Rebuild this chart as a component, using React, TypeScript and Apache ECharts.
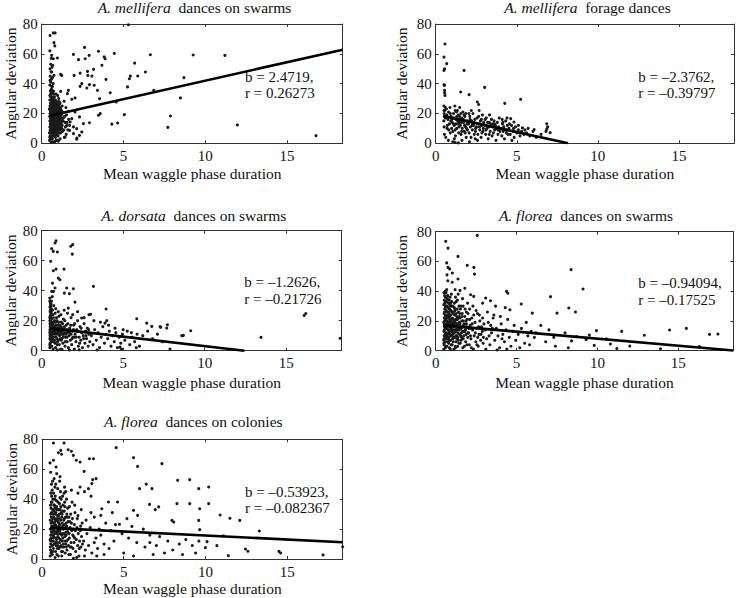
import React, { useEffect, useRef } from "react";
import * as echarts from "echarts";

// ---------- DATA ----------
const titleSpecies = ["A. mellifera", "A. mellifera", "A. dorsata", "A. florea", "A. florea"];
const titleRest = ["dances on swarms", "forage dances", "dances on swarms", "dances on swarms", "dances on colonies"];
const slopes = [2.4719, -2.3762, -1.2626, -0.94094, -0.53923];
const rValues = [0.26273, -0.39797, -0.21726, -0.17525, -0.082367];
const intercepts = [17.3, 19.4, 15.7, 17.5, 21.1];
const lineStartX = [0.5, 0.5, 0.5, 0.5, 0.5];
const xTicks = [0, 5, 10, 15];
const yTicks = [0, 20, 40, 60, 80];
const xMax = 18.4;

const mellSwarm: [number, number][] = [
  [5.3,79.5],[2.62,64.3],[1.94,59.6],[2.25,56.1],[2.66,56.7],[2.9,59],[3.47,61.7],[3.82,57.9],[3.88,56.7],[4.44,60.3],
  [6.64,59.4],[5.68,53.8],[3.68,52.3],[6.34,47.8],[5.87,45.1],[5.42,45.1],[5.36,43.3],[5.25,37.8],[1.98,45.5],[2.35,47.1],
  [2.8,48.2],[3.17,49.6],[2.82,45.5],[3.07,45.1],[3.93,42.9],[2.45,40],[2.35,38.2],[2.92,39.3],[3.21,38.9],[2.76,37.1],
  [3.41,35.5],[4.19,33.9],[6.85,35.5],[8.69,44],[8.48,30.4],[3.54,29.9],[4.56,27.7],[3.47,18.8],[3.58,19.9],[5.05,19.2],
  [7.87,18.3],[7.71,10.7],[4.64,13.6],[4.29,12.9],[9.26,59.2],[11.2,58.9],[11.96,12.3],[16.77,5.1],[0.96,57.2],[1.16,46.2],
  [1.22,45.5],[1.16,34.8],[1.63,35.5],[1.57,33.3],[1.84,29.5],[2.04,30.4],[1.37,28.2],[1.94,11],[2.14,9.8],[2.45,7.6],
  [2.31,5.3],[2.14,2.7],[1.74,14.3],[1.84,16.5],[1.53,12],[1.7,8.7],[1.94,6.5],[1.43,4.2],[2.55,13.2],[2.92,13.8],
  [2.31,17.7],[2.04,21],[1.63,21.4],[2.15,3.5],
  [0.51,72.3],[0.71,74],[0.82,74],[0.75,67.5],[0.8,65.3],[0.61,59],[0.71,56.7],[0.67,52.3],[0.51,50],[0.61,47.8],
  [0.75,45.5],[0.51,42.2],[0.55,53],[0.63,51],[0.5,62],[0.57,48],[0.66,44],[0.52,45],[0.6,43],[0.55,41],
  [0.7,40],[0.5,39],[0.62,38],[0.58,36],[0.53,35],[0.67,34],[0.74,33],[0.5,32],[0.6,31],[0.58,57],
  [0.48,2],[0.52,5],[0.55,8],[0.5,11],[0.58,14],[0.53,17],[0.6,20],[0.47,23],[0.56,26],[0.62,29],
  [0.65,3],[0.7,6],[0.66,9],[0.72,12],[0.68,15],[0.74,18],[0.63,21],[0.77,24],[0.7,27],[0.66,31],
  [0.8,1],[0.84,4],[0.79,7],[0.86,10],[0.82,13],[0.88,16],[0.8,19],[0.9,22],[0.85,25],[0.92,28],
  [0.96,2],[1.0,5],[0.94,8],[1.02,11],[0.98,14],[1.05,17],[0.95,20],[1.08,23],[1.0,26],[1.04,30],
  [1.12,3],[1.15,7],[1.1,10],[1.18,13],[1.14,16],[1.2,19],[1.1,22],[1.25,25],[1.16,12],[1.3,15],
  [1.35,9],[1.4,18],[1.28,21],[1.45,11],[1.5,6],[1.38,4],[1.55,14],[1.6,9],[1.48,24],[1.7,12],
  [0.5,15],[0.54,19],[0.58,22],[0.51,25],[0.6,12],[0.64,17],[0.57,10],[0.62,24],[0.69,19],[0.73,22],
  [0.67,13],[0.71,16],[0.76,14],[0.78,20],[0.83,17],[0.87,21],[0.81,11],[0.89,13],[0.93,18],[0.97,16],
  [0.91,24],[0.99,12],[1.03,15],[1.07,20],[1.01,9],[1.09,14],[1.13,18],[1.17,21],[1.21,10],[1.23,16],
  [0.55,33],[0.6,36],[0.65,38],[0.72,35],[0.78,31],[0.84,29],[0.88,33],[0.98,32],[1.06,28],[1.12,27],
  [0.53,13],[0.59,16],[0.63,7],[0.67,20],[0.75,9],[0.79,26],[0.86,19],[0.93,6],[1.0,21],[1.05,13],
  [0.49,18],[0.54,21],[0.56,3],[0.61,27],[0.69,24],[0.73,5],[0.77,17],[0.82,23],[0.9,15],[0.95,11],
  [0.58,0.5],[0.66,1],[0.74,0.8],[0.88,2],[1.02,1.5],[0.52,9],[0.57,29],[0.64,25],[0.7,14],[0.76,11],
  [0.47,7],[0.51,20],[0.54,27],[0.59,4],[0.61,18],[0.65,22],[0.68,10],[0.71,25],[0.73,28],[0.77,8],
  [0.79,15],[0.83,19],[0.85,6],[0.87,27],[0.9,11],[0.92,17],[0.94,23],[0.97,9],[1.0,14],[1.03,19],
  [1.07,7],[1.1,16],[1.13,24],[1.17,11],[1.2,14],[1.24,20],[1.27,8],[0.5,29],[0.56,31],[0.63,34],
  [0.69,30],[0.75,29],[0.81,27],[0.86,23],[0.6,8],[0.64,14],[0.72,18],[0.8,22],[0.9,19],[1.05,24],
  [0.53,24],[0.57,17],[0.67,27],[0.83,9],[0.96,25],[1.15,20],[1.33,17],[1.42,14],[1.52,19],[1.65,16],
  [0.49,4],[0.53,7],[0.57,12],[0.61,10],[0.65,5],[0.69,8],[0.73,14],[0.77,12],[0.81,16],[0.85,15],
  [0.89,9],[0.93,12],[0.97,20],[1.01,17],[1.05,10],[1.09,18],[1.13,9],[1.17,15],[1.21,17],[1.25,12],
  [0.52,22],[0.56,24],[0.6,26],[0.64,28],[0.68,22],[0.72,20],[0.76,22],[0.8,24],[0.84,21],[0.88,18],
  [0.92,26],[0.96,22],[1.0,24],[1.04,22],[1.08,26],[1.12,21],[1.16,23],[1.2,22],[0.62,15],[0.7,21],
  [0.78,18],[0.86,14],[0.94,16],[1.02,19],[1.1,19],[1.18,17]
];

const mellForage: [number, number][] = [
  [0.57,66.6],[0.51,57.8],[0.68,53.4],[0.55,50],[0.51,48.9],[0.51,39.3],[0.54,38.8],[0.55,33.9],[0.57,32.1],[0.55,35.5],
  [1.75,48.9],[1.54,34.4],[2.06,32.6],[3.02,37.5],[4.26,26.8],[5.24,29.5],[2.57,27.7],[2.65,26],[6.85,13.1],[7.06,7.1],
  [6.85,9.5],[6.07,9.2],[5.35,10.3],[4.83,14.3],[4.63,16.5],[4.4,17],[0.6,24],[0.55,22],[0.52,20],[0.6,17],
  [0.51,25],[0.51,22],[0.53,18],[0.5,15],[0.52,11],[0.54,6],[1.2,0.5],[1.4,0.3],
  [0.62,4],[0.7,10],[0.75,16],[0.8,21],[0.85,13],[0.9,7],[0.95,18],[0.66,23],[0.72,12],[0.88,24],
  [0.98,10],[0.78,2],[0.93,15],[0.68,19],
  [1.02,14],[1.06,8],[1.1,20],[1.14,12],[1.18,25],[1.22,5],[1.26,16],[1.3,10],[1.34,22],[1.38,13],
  [1.42,7],[1.46,18],[1.05,1],[1.12,17],[1.2,9],[1.28,21],[1.36,15],[1.44,11],[1.48,24],[1.15,3],
  [1.25,13],[1.4,19],
  [1.52,12],[1.56,6],[1.6,17],[1.64,10],[1.68,21],[1.72,14],[1.76,8],[1.8,18],[1.84,11],[1.88,4],
  [1.92,15],[1.96,9],[1.55,20],[1.62,2],[1.7,16],[1.78,12],[1.86,20],[1.94,13],[1.58,14],[1.82,7],
  [2.02,13],[2.06,7],[2.1,18],[2.14,11],[2.18,4],[2.22,15],[2.26,9],[2.3,20],[2.34,12],[2.38,6],
  [2.42,16],[2.46,10],[2.08,1],[2.2,22],[2.36,14],[2.44,3],[2.12,16],[2.28,13],
  [2.52,11],[2.56,17],[2.6,6],[2.64,13],[2.68,22],[2.72,9],[2.76,15],[2.8,4],[2.84,12],[2.88,19],
  [2.92,8],[2.96,14],[2.58,2],[2.7,11],[2.82,16],[2.94,10],
  [3.04,12],[3.08,6],[3.12,17],[3.16,10],[3.2,14],[3.24,3],[3.28,11],[3.32,19],[3.36,8],[3.4,13],
  [3.44,16],[3.48,5],[3.1,9],[3.3,14],
  [3.52,11],[3.56,7],[3.6,15],[3.64,9],[3.68,12],[3.72,2],[3.76,10],[3.8,14],[3.84,6],[3.88,11],
  [3.92,17],[3.96,8],[3.62,13],
  [4.04,10],[4.08,5],[4.12,13],[4.16,8],[4.2,11],[4.24,3],[4.28,9],[4.32,15],[4.36,7],[4.42,12],
  [4.46,6],[4.1,16],
  [4.52,10],[4.6,6],[4.68,12],[4.76,8],[4.84,4],[4.92,11],[5.0,7],[5.1,9],[5.2,5],[5.3,8],
  [5.45,6],[4.7,2],[4.55,13],[5.6,7],[5.8,5],[6.0,8],[6.2,4],[6.5,6],[5.7,10],[6.9,11],[6.8,8],
  [0.8,9],[0.9,20],[1.0,16],[1.1,13],[1.2,22],[1.3,18],[1.45,14],[1.6,8],[1.75,19],[1.9,10],
  [2.05,20],[2.25,12],[2.45,8],[2.65,18],[2.85,7],[3.05,16],[3.3,6],[3.55,13],[3.85,9],[4.15,14],
  [4.4,9],[4.8,10],[5.1,12],[5.5,9]
];

const dorsataSwarm: [number, number][] = [
  [0.88,73.3],[0.82,71.8],[0.61,68],[0.71,66.2],[0.96,65.8],[0.55,59.6],[0.88,54.4],[0.71,53.3],[1.02,48.4],[1.37,54.4],
  [1.78,69.6],[1.9,70.7],[1.88,64.4],[1.53,41.8],[1.94,41.3],[1.7,38],[1.39,38.4],[3.17,42.9],[0.62,39.5],[0.72,39.5],
  [0.82,41.8],[2.04,32.4],[1.63,28.4],[3.95,27.8],[5.83,21.3],[3.99,20],[3.88,18.4],[2.9,24],[3.0,24.3],[2.45,21.8],
  [6.44,18.4],[6.75,16.2],[7.71,17.3],[7.3,15.6],[7.67,15.1],[8.69,10.2],[9.14,13.3],[13.45,8.9],[16.1,23.5],[16.2,24.8],
  [18.3,8.3],[7.87,1.1],[8.59,10],[7.26,16],[5.8,2],[4.8,2.4],[1.12,47.3],[0.66,45],
  [0.5,2],[0.52,5],[0.5,8],[0.53,11],[0.51,14],[0.54,17],[0.5,20],[0.52,23],[0.55,26],[0.51,29],
  [0.53,32],[0.5,35],[0.56,12],[0.57,19],[0.56,24],[0.55,7],[0.58,15],[0.59,28],[0.6,10],[0.57,31],
  [0.62,3],[0.65,8],[0.68,13],[0.7,18],[0.72,22],[0.75,6],[0.78,11],[0.8,16],[0.83,25],[0.85,2],
  [0.88,9],[0.9,14],[0.93,20],[0.95,4],[0.98,12],[1.0,17],[1.03,7],[1.06,23],[1.1,10],[1.13,15],
  [1.16,1],[1.2,19],[1.23,8],[1.26,13],[1.3,5],[1.33,21],[1.36,11],[1.4,16],[1.43,3],[1.46,9],
  [1.49,14],[0.66,27],[0.74,30],[0.86,28],[1.02,26],[1.18,24],[1.38,27],[0.7,1],[0.96,0.5],[1.25,0.8],
  [1.52,12],[1.56,6],[1.6,18],[1.64,2],[1.68,10],[1.72,15],[1.76,7],[1.8,22],[1.84,4],[1.88,13],
  [1.92,9],[1.96,17],[2.0,1],[2.05,11],[2.1,6],[2.15,14],[2.2,20],[2.25,3],[2.3,9],[2.35,16],
  [2.4,7],[2.45,12],[2.5,2],[2.55,10],[2.6,18],[2.65,5],[2.7,13],[2.75,8],[2.8,15],[2.85,3],
  [2.9,11],[2.95,6],[1.58,25],[1.9,24],[2.2,26],[2.6,22],[1.7,0.5],[2.3,0.6],
  [3.05,10],[3.15,4],[3.25,14],[3.35,7],[3.45,12],[3.55,2],[3.65,9],[3.75,16],[3.85,5],[3.95,11],
  [4.05,8],[4.15,13],[4.25,3],[4.35,10],[4.45,6],[4.55,12],[4.65,2],[4.75,9],[4.85,5],[4.95,11],
  [5.1,7],[5.25,13],[5.4,4],[5.55,9],[5.7,6],[5.85,11],[6.0,3],[3.2,20],[3.6,19],[4.1,17],
  [4.5,15],[5.0,14],[5.5,12],[6.2,10],[6.5,13],[6.8,8],[7.1,11],[7.4,6],[3.4,0.5],[4.9,1],
  [0.5,4],[0.51,10],[0.52,16],[0.5,22],[0.53,27],[0.54,30],[0.5,33],[0.55,18],[0.52,13],[0.56,21],
  [0.61,6],[0.64,15],[0.67,19],[0.69,24],[0.73,9],[0.77,14],[0.79,20],[0.82,5],[0.84,12],[0.87,17],
  [0.91,22],[0.94,8],[0.97,15],[1.01,11],[1.04,19],[1.08,4],[1.12,13],[1.15,8],[1.19,16],[1.22,11],
  [1.28,18],[1.32,9],[1.35,14],[1.42,20],[1.45,6],[1.5,17],[1.55,9],[1.62,14],[1.7,12],[1.78,17],
  [1.86,8],[1.95,14],[2.02,18],[2.12,9],[2.22,13],[2.33,5],[2.42,15],[2.58,8],[2.72,10],[2.88,14],
  [0.6,33],[0.65,36],[0.58,25],
  [0.5,12],[0.51,18],[0.52,26],[0.53,3],[0.54,22],[0.55,30],[0.57,9],[0.59,21],[0.63,11],[0.66,17],
  [0.7,12],[0.74,16],[0.78,7],[0.81,13],[0.85,19],[0.89,11],[0.93,17],[0.97,6],[1.0,13],[1.05,15],
  [1.1,17],[1.15,12],[1.2,7],[1.25,15],[1.3,11],[1.4,12],[1.5,11],[1.6,13],[1.8,11],[2.0,9]
];

const floreaSwarm: [number, number][] = [
  [2.57,77.5],[0.62,73.5],[0.76,69],[1.38,63.4],[0.68,59],[0.76,56],[0.86,55],[1.95,57.4],[2.36,56],[2.4,51.5],
  [1.03,52.2],[0.7,51],[1.38,48.2],[1.02,46],[0.75,47],[4.38,39.9],[4.46,38.6],[8.37,54.5],[9.11,41.5],[7.1,36.3],
  [8.23,28.7],[8.64,26],[7.5,25.3],[5.97,25.3],[5.29,31.4],[3.09,35.4],[3.39,33.6],[2.16,37.6],[2.35,36.5],[4.59,27.5],
  [14.46,13.9],[15.5,15],[16.93,11],[17.45,11.2],[16.3,2.7],[12.9,10.4],[11.5,13],[10.55,8],[9.94,13.5],[9.5,10.5],
  [8.7,9.5],[8.4,6.6],[9.8,3.6],[12.0,3.1],[10.8,4.5],[13.9,1.3],[4.3,29],[3.7,30],[2.9,32],[1.8,42],
  [1.5,40.5],[1.2,41],[6.5,17],[7.0,14],[5.6,19],[6.2,12],[6.8,6],[7.4,3],[5.8,4],[6.1,9],
  [7.3,9],[8.0,12],[8.2,2],[11.2,1.5],[9.3,7.5],
  [0.5,1],[0.52,4],[0.5,7],[0.53,10],[0.51,13],[0.55,16],[0.5,19],[0.54,22],[0.52,25],[0.56,28],
  [0.5,31],[0.53,34],[0.55,37],[0.51,39],[0.6,2],[0.62,6],[0.6,9],[0.64,12],[0.61,15],[0.66,18],
  [0.6,21],[0.63,24],[0.65,27],[0.62,30],[0.67,33],[0.6,36],[0.64,39],[0.68,41],
  [0.7,3],[0.72,8],[0.74,11],[0.76,14],[0.78,17],[0.71,20],[0.73,23],[0.75,26],[0.77,29],[0.79,32],
  [0.72,35],[0.8,5],[0.82,9],[0.84,13],[0.86,16],[0.88,19],[0.81,22],[0.83,25],[0.85,28],[0.87,31],
  [0.89,36],[0.9,1],[0.92,7],[0.94,10],[0.96,15],[0.98,18],[0.91,21],[0.93,24],[0.95,27],[0.97,30],
  [0.99,33],
  [1.02,4],[1.05,8],[1.08,12],[1.11,16],[1.14,20],[1.17,24],[1.2,28],[1.23,2],[1.26,6],[1.29,10],
  [1.32,14],[1.35,18],[1.38,22],[1.41,26],[1.44,30],[1.47,11],[1.04,14],[1.1,26],[1.16,32],[1.22,36],
  [1.28,17],[1.34,34],[1.4,7],[1.46,19],[1.06,19],[1.12,1],[1.18,9],[1.24,13],[1.3,23],[1.36,3],
  [1.42,15],[1.48,25],
  [1.52,5],[1.55,10],[1.58,15],[1.61,20],[1.64,25],[1.67,2],[1.7,8],[1.73,13],[1.76,18],[1.79,23],
  [1.82,28],[1.85,6],[1.88,11],[1.91,16],[1.94,21],[1.97,32],[1.56,30],[1.66,35],[1.78,3],[1.9,26],
  [1.6,12],[1.72,17],[1.84,14],[1.98,9],
  [2.03,12],[2.08,4],[2.13,17],[2.18,8],[2.23,22],[2.28,14],[2.33,1],[2.38,10],[2.43,19],[2.48,6],
  [2.53,15],[2.58,25],[2.63,3],[2.68,11],[2.73,20],[2.78,7],[2.83,16],[2.88,13],[2.93,5],[2.98,18],
  [2.1,28],[2.3,30],[2.5,27],[2.7,24],[2.9,22],[2.2,2],[2.6,9],
  [3.05,14],[3.15,8],[3.25,19],[3.35,4],[3.45,12],[3.55,22],[3.65,7],[3.75,15],[3.85,10],[3.95,2],
  [4.05,18],[4.15,11],[4.25,6],[4.35,14],[4.45,21],[4.55,9],[4.65,3],[4.75,13],[4.85,17],[4.95,7],
  [5.1,11],[5.3,15],[5.5,5],[5.7,10],[5.9,13],[3.2,26],[3.6,24],[4.0,23],[3.4,17],[3.8,0.5],
  [4.4,1],[5.2,2],[4.1,8],[3.1,1],
  [0.51,5],[0.53,17],[0.55,26],[0.57,32],[0.58,11],[0.6,40],[0.63,3],[0.65,20],[0.67,8],[0.69,30],
  [0.71,15],[0.74,37],[0.76,6],[0.78,24],[0.8,12],[0.83,34],[0.85,2],[0.87,21],[0.9,27],[0.92,14],
  [0.95,4],[0.97,38],[1.0,10],[1.03,22],[1.06,30],[1.09,6],[1.12,18],[1.15,12],[1.19,27],[1.21,3],
  [1.25,21],[1.27,33],[1.31,8],[1.33,28],[1.37,12],[1.39,38],[1.43,5],[1.45,23],[1.5,18],[1.53,28],
  [1.57,7],[1.62,23],[1.65,13],[1.69,30],[1.74,10],[1.8,16],[1.87,20],[1.93,4],[2.0,25],[2.05,15],
  [2.15,10],[2.25,18],[2.35,24],[2.45,12],[2.55,4],[2.65,16],[2.8,11],[2.95,9],[3.3,10],[3.5,15],
  [0.52,8],[0.54,14],[0.56,20],[0.58,23],[0.6,29],[0.62,33],[0.66,10],[0.68,16],[0.7,22],[0.72,26],
  [0.74,18],[0.76,9],[0.8,19],[0.82,29],[0.84,7],[0.86,23],[0.88,11],[0.9,17],[0.92,32],[0.94,20],
  [0.98,13],[1.0,26],[1.02,17],[1.05,11],[1.07,25],[1.1,21],[1.13,9],[1.15,29],[1.18,14],[1.21,19],
  [1.25,10],[1.27,25],[1.3,15],[1.34,21],[1.38,9],[1.42,18],[1.46,14],[1.5,22],[1.55,16],[1.6,9],
  [1.7,20],[1.8,13],[1.9,18],[2.0,12],[2.1,21],[2.2,15]
];

const floreaColony: [number, number][] = [
  [0.7,77.5],[1.35,77.5],[4.54,74.4],[5.6,67.7],[5.85,61.9],[7.34,63.7],[2.9,67],[3.15,67],[2.33,64.8],[2.58,58.6],
  [1.92,69.3],[1.15,72.6],[1.0,71],[0.49,64.2],[0.7,66],[0.86,61.5],[0.53,58],[0.74,53.7],[1.2,70],[1.6,73],
  [1.8,72],[2.1,66],[3.1,53],[3.31,53.7],[3.05,50.4],[2.33,48.1],[2.84,47],[5.97,47],[6.38,50],[6.73,47],
  [8.3,52.6],[9.04,53],[9.59,47],[10.2,48.1],[4.07,38.1],[4.62,38.1],[3.66,33.6],[3.6,29.2],[5.6,32.5],[5.85,29.2],
  [6.58,36.5],[6.93,33],[7.14,34.8],[8.26,37],[9.04,37],[9.65,33.6],[10.2,37],[7.95,25.8],[8.06,24.7],[9.59,25.8],
  [9.65,19.6],[4.74,23.2],[4.5,23],[5.5,21.8],[10.9,29.4],[11.5,27.2],[12.1,25.8],[13.3,18.7],[12.45,6.7],[12.6,5.2],
  [14.5,5.1],[14.6,4],[17.2,2.7],[18.4,8.2],[11.4,2.2],[10.7,9],[10.1,11.6],[9.6,12],[9.2,9],[10.0,7.6],
  [11.1,15.4],[3.0,42],[2.6,45],[2.2,44],[1.8,46],[4.3,31],[5.2,27],[6.2,20],[6.6,16],[7.2,15],
  [7.7,12],[8.4,10],[8.8,13],[8.0,6],[7.5,4],[6.8,3],[6.3,8],[5.8,11],[5.3,14],[4.9,17],
  [4.4,12],[4.1,7],[3.8,3],[5.0,4],[5.6,2],[6.6,11],[7.0,9],[8.6,3],[9.4,4],[3.3,14],
  [3.5,20],[3.9,24],[3.2,28],[4.2,19],
  [0.5,2],[0.52,6],[0.54,10],[0.56,14],[0.58,18],[0.6,22],[0.5,26],[0.53,30],[0.55,34],[0.57,38],
  [0.59,42],[0.62,46],[0.5,13],[0.6,5],[0.64,9],[0.66,16],[0.68,20],[0.7,24],[0.72,28],[0.74,32],
  [0.76,36],[0.78,40],[0.63,3],[0.69,12],[0.75,19],[0.65,27],[0.71,44],[0.79,48],
  [0.8,1],[0.83,5],[0.86,9],[0.89,13],[0.92,17],[0.95,21],[0.98,25],[1.01,29],[1.04,33],[1.07,37],
  [1.1,41],[1.13,45],[0.82,23],[0.85,31],[0.88,39],[0.91,3],[0.94,11],[0.97,15],[1.0,19],[1.03,7],
  [1.06,27],[1.09,23],[1.12,13],[1.15,17],[1.18,31],[0.84,50],[0.96,47],[1.08,52],[1.19,5],[1.16,9],
  [1.21,2],[1.24,8],[1.27,14],[1.3,20],[1.33,26],[1.36,32],[1.39,38],[1.42,4],[1.45,10],[1.48,16],
  [1.51,22],[1.54,28],[1.57,34],[1.23,24],[1.29,36],[1.35,44],[1.41,12],[1.47,18],[1.53,6],[1.59,13],
  [1.26,42],[1.38,48],[1.5,40],
  [1.62,9],[1.66,17],[1.7,25],[1.74,3],[1.78,11],[1.82,19],[1.86,27],[1.9,7],[1.94,15],[1.98,23],
  [2.02,31],[2.06,5],[2.1,13],[2.14,21],[2.18,9],[2.22,17],[2.26,2],[2.3,12],[2.34,19],[2.38,8],
  [2.42,15],[2.46,24],[1.68,35],[1.84,38],[2.0,36],[2.2,29],[2.4,33],[1.76,30],[1.92,0.5],[2.12,1],
  [2.55,12],[2.65,6],[2.75,17],[2.85,9],[2.95,21],[3.05,4],[3.2,11],[3.4,7],[3.6,16],[3.8,10],
  [2.7,26],[3.0,31],[2.6,2],[3.35,2],
  [0.51,8],[0.53,16],[0.55,24],[0.57,28],[0.52,36],[0.54,44],[0.58,50],[0.61,12],[0.63,18],[0.65,33],
  [0.67,40],[0.7,7],[0.72,15],[0.74,22],[0.77,27],[0.79,34],[0.81,42],[0.83,11],[0.86,18],[0.88,26],
  [0.9,33],[0.93,7],[0.95,29],[0.98,38],[1.0,2],[1.02,14],[1.05,22],[1.08,11],[1.11,33],[1.14,26],
  [1.17,40],[1.2,16],[1.23,30],[1.26,5],[1.28,22],[1.31,10],[1.34,17],[1.37,27],[1.4,35],[1.44,21],
  [1.48,8],[1.52,30],[1.56,18],[1.6,25],[1.64,3],[1.68,14],[1.72,21],[1.8,8],[1.88,16],[1.96,11],
  [2.04,19],[2.16,27],[2.28,7],[2.36,22],[2.48,10],[1.45,45],[1.1,55],[0.9,57],[0.65,52],
  [0.51,20],[0.53,12],[0.55,4],[0.57,20],[0.59,31],[0.61,38],[0.63,25],[0.66,5],[0.68,30],[0.7,14],
  [0.72,36],[0.75,10],[0.77,17],[0.8,25],[0.82,30],[0.85,14],[0.87,22],[0.89,35],[0.92,27],[0.94,19],
  [0.97,9],[0.99,33],[1.02,24],[1.04,17],[1.07,30],[1.1,19],[1.12,8],[1.15,35],[1.18,21],[1.21,28],
  [1.24,12],[1.27,32],[1.3,17],[1.33,8],[1.36,23],[1.4,15],[1.44,28],[1.48,24],[1.52,12],[1.58,20],
  [1.65,28],[1.72,8],[1.8,24],[1.9,20],[2.0,14]
];

const panelData = [mellSwarm, mellForage, dorsataSwarm, floreaSwarm, floreaColony];

// ---------- LAYOUT (positions / styles) ----------
const grids = [
  { left: 41.7, top: 24, width: 301, height: 119.3 },
  { left: 435.7, top: 24, width: 298.6, height: 119.3 },
  { left: 41.7, top: 230.7, width: 300, height: 120 },
  { left: 435.7, top: 231.7, width: 297.6, height: 119 },
  { left: 42, top: 439.3, width: 300.7, height: 119.7 },
];
const titlePos = [
  [194.5, 7.5], [587.5, 7.5], [193.8, 215], [586, 215.7], [193.3, 421.7],
];
const notePos = [
  [245, 76.7, 92.5], [638.3, 76.7, 92.5], [244.3, 282, 299], [638.3, 283.3, 300], [245, 492, 508.3],
];
const xNameGap = [22, 22, 24, 24, 21.5];
const yNameGap = [22, 26, 22, 26, 22];

const FONT = "Liberation Serif, Times New Roman, serif";
const INK = "#111";
const AXIS = "#333";

const fmt = (v: number) => (v < 0 ? "\u2013" : "") + String(Math.abs(v));

export default function App() {
  const ref = useRef<HTMLDivElement>(null);
  useEffect(() => {
    if (!ref.current) return;
    const chart = echarts.init(ref.current, undefined, { renderer: "svg" });

    const grid: any[] = [];
    const xAxis: any[] = [];
    const yAxis: any[] = [];
    const series: any[] = [];
    const title: any[] = [];

    panelData.forEach((pts, i) => {
      grid.push({ ...grids[i], containLabel: false });
      const tickCommon = { show: true, inside: true, length: 3, lineStyle: { color: AXIS, width: 1 } };
      xAxis.push({
        type: "value", gridIndex: i, min: 0, max: xMax, interval: 5, position: "bottom",
        name: "Mean waggle phase duration", nameLocation: "middle", nameGap: xNameGap[i],
        nameTextStyle: { fontFamily: FONT, fontSize: 15.5, color: INK },
        axisLine: { show: true, onZero: false, lineStyle: { color: AXIS, width: 1 } },
        axisTick: tickCommon,
        axisLabel: {
          fontFamily: FONT, fontSize: 15, color: INK, margin: 5,
          formatter: (v: number) => (xTicks.includes(v) ? String(v) : ""),
        },
        splitLine: { show: false },
      });
      xAxis.push({
        type: "value", gridIndex: i, min: 0, max: xMax, interval: 5, position: "top",
        axisLine: { show: true, onZero: false, lineStyle: { color: AXIS, width: 1 } },
        axisTick: tickCommon, axisLabel: { show: false }, splitLine: { show: false },
      });
      yAxis.push({
        type: "value", gridIndex: i, min: 0, max: 80, interval: 20, position: "left",
        name: "Angular deviation", nameLocation: "middle", nameGap: yNameGap[i],
        nameTextStyle: { fontFamily: FONT, fontSize: 15.5, color: INK },
        axisLine: { show: true, onZero: false, lineStyle: { color: AXIS, width: 1 } },
        axisTick: tickCommon,
        axisLabel: {
          fontFamily: FONT, fontSize: 15, color: INK, margin: 4,
          formatter: (v: number) => (yTicks.includes(v) ? String(v) : ""),
        },
        splitLine: { show: false },
      });
      yAxis.push({
        type: "value", gridIndex: i, min: 0, max: 80, interval: 20, position: "right",
        axisLine: { show: true, onZero: false, lineStyle: { color: AXIS, width: 1 } },
        axisTick: tickCommon, axisLabel: { show: false }, splitLine: { show: false },
      });

      series.push({
        type: "scatter", xAxisIndex: 2 * i, yAxisIndex: 2 * i, data: pts,
        symbol: "circle", symbolSize: 3.1,
        itemStyle: { color: "#1a1a1a", opacity: 1 }, z: 2, silent: true,
      });
      const b = slopes[i];
      const a = intercepts[i];
      const x0 = lineStartX[i];
      const x1 = b < 0 ? Math.min(xMax, a / -b) : xMax;
      series.push({
        type: "line", xAxisIndex: 2 * i, yAxisIndex: 2 * i,
        data: [[x0, a + b * x0], [x1, a + b * x1]],
        symbol: "none", lineStyle: { color: "#000", width: 2.6 }, z: 3, silent: true,
      });

      title.push({
        text: "{i|" + titleSpecies[i] + "}{n|  " + titleRest[i] + "}",
        left: titlePos[i][0], top: titlePos[i][1], padding: 0,
        textAlign: "center", textVerticalAlign: "middle",
        textStyle: {
          fontFamily: FONT, fontSize: 15.5, fontWeight: "normal", color: INK,
          rich: {
            i: { fontFamily: FONT, fontSize: 15.5, fontStyle: "italic", color: INK },
            n: { fontFamily: FONT, fontSize: 15.5, color: INK },
          },
        },
      });
      title.push({
        text: "b = " + fmt(b) + ",",
        left: notePos[i][0], top: notePos[i][1], padding: 0,
        textAlign: "left", textVerticalAlign: "middle",
        textStyle: { fontFamily: FONT, fontSize: 15, fontWeight: "normal", color: INK },
      });
      title.push({
        text: "r = " + fmt(rValues[i]),
        left: notePos[i][0], top: notePos[i][2], padding: 0,
        textAlign: "left", textVerticalAlign: "middle",
        textStyle: { fontFamily: FONT, fontSize: 15, fontWeight: "normal", color: INK },
      });
    });

    chart.setOption({
      animation: false,
      backgroundColor: "#fff",
      textStyle: { fontFamily: FONT },
      title, grid, xAxis, yAxis, series,
    });
    return () => chart.dispose();
  }, []);

  return (
    <div
      ref={ref}
      style={{ position: "fixed", left: 0, top: 0, width: 737, height: 598, background: "#fff", fontFamily: "serif" }}
    />
  );
}
